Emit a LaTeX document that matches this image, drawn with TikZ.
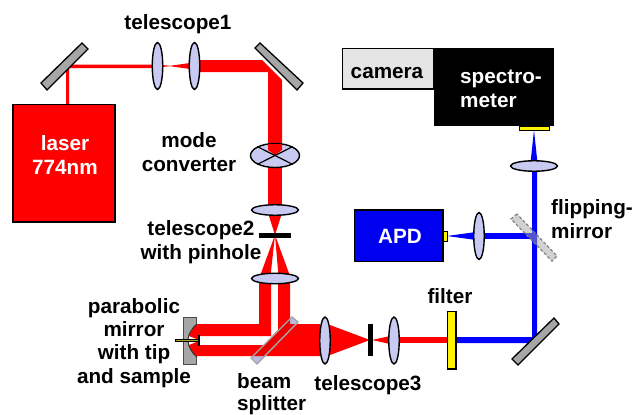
\documentclass[tikz,border=0pt]{standalone}
\usepackage{fontspec}
\setmainfont{Liberation Sans}
\usetikzlibrary{shapes.geometric}
\definecolor{lensfill}{HTML}{C8CAF2}
\definecolor{mirrorgray}{HTML}{A6A6A6}
\definecolor{tipolive}{HTML}{A8A820}
\tikzset{
  x=1pt,y=-1pt,
  label/.style={font=\fontsize{20.7}{23.3}\selectfont\bfseries,inner sep=0pt,align=center,anchor=base},
  leftlabel/.style={label,align=left,anchor=base west},
  whitelabel/.style={label,text=white},
  vlens/.style={shape=ellipse,draw=black,line width=1.4pt,fill=lensfill,minimum width=10.5pt,minimum height=47pt,inner sep=0pt},
  hlens/.style={shape=ellipse,draw=black,line width=1.4pt,fill=lensfill,minimum width=47pt,minimum height=10.5pt,inner sep=0pt},
  redbeam/.style={fill=red,draw=none},
  bluebeam/.style={fill=blue,draw=none},
  mirrorbar/.style={fill=mirrorgray,draw=black,line width=1.3pt,line join=miter},
  boxed/.style={draw=black,line width=1.4pt},
}
\begin{document}
\begin{tikzpicture}
\useasboundingbox (0,0) rectangle (633,415);
% ---- beam splitter body, under the beams
\fill[lensfill] (292,317) -- (298,322) -- (257,364) -- (251,358) -- cycle;
% ---- red beams
\fill[redbeam] (66,104) -- (66,64.5) -- (157,64.5) -- (157,68) -- (69,68) -- (69,104) -- cycle;
\fill[redbeam] (162,65) -- (170,65.8) -- (190,63) -- (190,69) -- (170,66.2) -- (162,67) -- cycle;
\fill[redbeam] (196,60) -- (262,60) -- (282,80) -- (282,155) -- (268,155) -- (268,72) -- (196,72) -- cycle;
\fill[redbeam] (268,166) -- (282,166) -- (282,207) -- (268,207) -- cycle;
\fill[redbeam] (268,213) -- (282,213) -- (275,235) -- cycle;
\fill[redbeam] (275,235) -- (260,276) -- (270.5,276) -- cycle;
\fill[redbeam] (275,235) -- (290,276) -- (278.5,276) -- cycle;
\fill[redbeam] (259,281) -- (271,281) -- (271,336) -- (196,336) -- (196,324) -- (259,324) -- cycle;
\fill[redbeam] (278,281) -- (290,281) -- (290,324) -- (320,324) -- (320,356) -- (196,356) -- (196,345) -- (264,345) -- (278,330) -- cycle;
\fill[redbeam] (330,325) -- (370,340) -- (330,355) -- cycle;
\fill[redbeam] (372,340) -- (390,336) -- (390,344) -- cycle;
\fill[redbeam] (398,337) -- (448,337) -- (448,343) -- (398,343) -- cycle;
% ---- blue beams
\fill[bluebeam] (455,337) -- (532,337) -- (532,168) -- (537,168) -- (537,343) -- (455,343) -- cycle;
\fill[bluebeam] (532,233) -- (482,233) -- (482,239) -- (532,239) -- cycle;
\fill[bluebeam] (447,236) -- (476,232) -- (476,240) -- cycle;
\fill[bluebeam] (530.5,163) -- (534,130) -- (537.5,163) -- cycle;
% ---- plane mirrors
\draw[mirrorbar] (82,43) -- (88,49) -- (47,90) -- (41,83) -- cycle;
\draw[mirrorbar] (260,43) -- (255,48) -- (297,90) -- (303,83) -- cycle;
\draw[mirrorbar] (554,318) -- (559,324) -- (518,365) -- (512,359) -- cycle;
% ---- flipping mirror and beam splitter outline
\draw[fill=mirrorgray,fill opacity=.5,draw=gray,line width=1.2pt,densely dashed] (517,214) -- (511,219) -- (552,261) -- (557,256) -- cycle;
\draw[fill=black,fill opacity=.08,draw=mirrorgray,line width=1.4pt] (292,317) -- (298,322) -- (257,364) -- (251,358) -- cycle;
% ---- parabolic mirror, tip and sample
\fill[mirrorgray] (183,317) rectangle (196,364);
\draw[black!70,line width=1pt] (196,324) -- (196,317) -- (183,317) -- (183,364) -- (196,364) -- (196,356);
\fill[white] (197,324) .. controls (191,329) and (188,335) .. (188,340) .. controls (188,346) and (191,352) .. (197,357) -- cycle;
\fill[redbeam] (197,324) .. controls (193,328) and (190,332) .. (189,336) -- (199,340) -- (199,336) -- cycle;
\fill[redbeam] (197,357) .. controls (193,353) and (190,349) .. (189,345) -- (199,341) -- (199,345) -- cycle;
\draw[black!80,line width=1pt] (197,324) .. controls (191,329) and (188,335) .. (188,340) .. controls (188,346) and (191,352) .. (197,357);
\draw[black,fill=tipolive,line width=.4pt] (175,339.3) rectangle (198,341.3);
\draw[black,line width=1.6pt] (199,335) -- (199,345.5);
% ---- lenses
\node[vlens] (lensA) at (157.5,66) {};
\node[vlens] (lensB) at (194.5,66) {};
\node[shape=ellipse,draw=black,line width=1.4pt,fill=lensfill,minimum width=49pt,minimum height=24pt,inner sep=0pt] (modeconv) at (275,155.5) {};
\fill[redbeam] (268,144) -- (282,144) -- (282,150) -- (275,155) -- (268,150) -- cycle;
\draw[black,line width=1.2pt] (modeconv.north west) -- (modeconv.south east);
\draw[black,line width=1.2pt] (modeconv.north east) -- (modeconv.south west);
\node[hlens] (lensC) at (275,210) {};
\node[hlens] (lensD) at (275,278.5) {};
\node[vlens] (lensE) at (325,340.5) {};
\node[vlens] (lensF) at (394,340.5) {};
\node[vlens] (lensG) at (479,236) {};
\node[hlens] (lensH) at (534,166) {};
% ---- pinholes, filter
\fill[black] (259,233) rectangle (290.5,238);
\fill[black] (368,324) rectangle (372.5,356);
\draw[boxed,fill=yellow] (447.5,311.5) rectangle (456,369);
% ---- instruments
\draw[boxed,fill=red] (13,104.5) rectangle (115,222);
\node[whitelabel] (laser) at (65,174) {laser\\774nm};
\draw[boxed,fill=black!10] (342.5,48.5) rectangle (434,89);
\fill[black] (434,48) rectangle (554,126);
\draw[black,line width=.8pt,fill=yellow] (519,126) rectangle (549.5,130);
\node[label] (camera) at (387,78) {camera};
\node[leftlabel,text=white] (spectro) at (460,107) {spectro-\\meter};
\draw[boxed,fill=blue!94!black] (354.5,210) rectangle (443,261.5);
\draw[black,line width=.7pt,fill=yellow] (443,231) rectangle (447,241);
\node[whitelabel] (apd) at (400,243) {APD};
% ---- labels
\node[label] (tel1) at (178,30) {telescope1};
\node[label] (mode) at (189,171) {mode\\converter};
\node[label] (tel2) at (201,259) {telescope2\\with pinhole};
\node[label] (para) at (134,383) {parabolic\\mirror\\with tip\\and sample};
\node[leftlabel,font=\fontsize{20.7}{22}\selectfont\bfseries] (bs) at (237,410.5) {beam\\splitter};
\node[label] (tel3) at (368,390) {telescope3};
\node[label] (filt) at (450,303) {filter};
\node[leftlabel] (flip) at (551,238) {flipping-\\mirror};
\end{tikzpicture}
\end{document}
